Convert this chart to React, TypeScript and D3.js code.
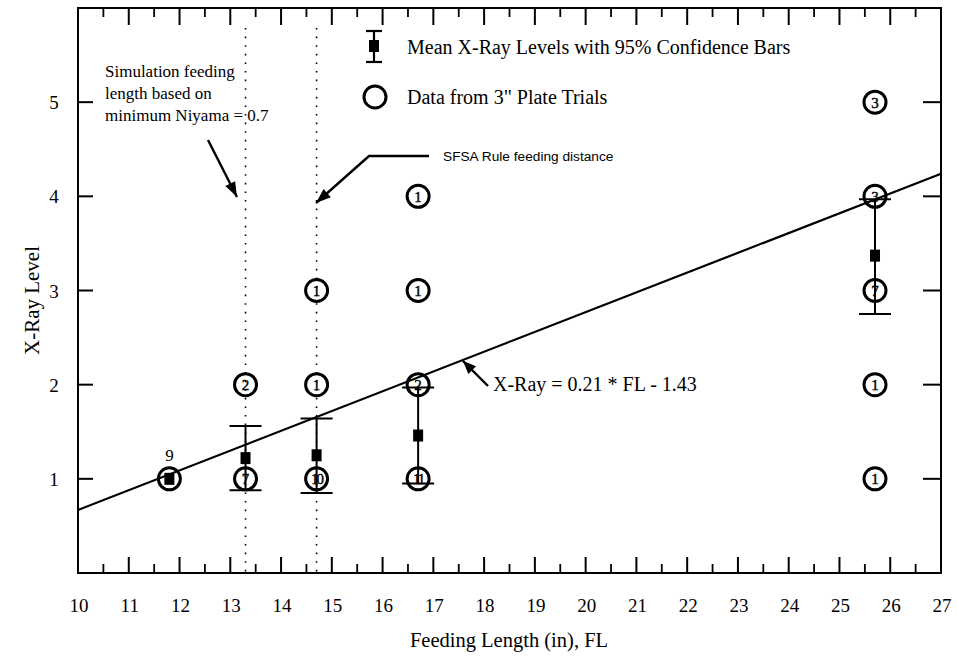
import React from "react";
import * as d3 from "d3";

// Individual plate trials: feeding length, x-ray level, number of plates
const trialFL = [11.8, 13.3, 13.3, 14.7, 14.7, 14.7, 16.7, 16.7, 16.7, 16.7, 25.7, 25.7, 25.7, 25.7, 25.7];
const trialLevel = [1, 2, 1, 3, 2, 1, 4, 3, 2, 1, 5, 4, 3, 2, 1];
const trialCount = ["9", "2", "7", "1", "1", "10", "1", "1", "2", "11", "3", "3", "7", "1", "1"];

// Mean x-ray level per feeding length with 95% confidence bounds
const meanFL = [11.8, 13.3, 14.7, 16.7, 25.7];
const meanLevel = [1.0, 1.22, 1.25, 1.46, 3.37];
const ciLow = [1.0, 0.88, 0.85, 0.95, 2.75];
const ciHigh = [1.0, 1.56, 1.64, 1.97, 3.97];

// Fitted trend: X-Ray = 0.21 * FL - 1.43
const fitSlope = 0.21;
const fitIntercept = -1.43;

// Reference feeding lengths
const simulationFL = 13.3;
const sfsaFL = 14.7;

const xTicks = d3.range(10, 28, 1);
const xMinorTicks = d3.range(10.5, 27, 1);
const yTicks = [1, 2, 3, 4, 5];

const W = 957;
const H = 657;
const margin = { left: 78, right: 16, top: 8, bottom: 84 };

const serif = "'Liberation Serif', 'Times New Roman', serif";
const sans = "'Liberation Sans', Arial, sans-serif";

function arrowHead(x1: number, y1: number, x2: number, y2: number, len = 15, half = 5.5) {
  const a = Math.atan2(y2 - y1, x2 - x1);
  const bx = x2 - len * Math.cos(a);
  const by = y2 - len * Math.sin(a);
  const px = -Math.sin(a) * half;
  const py = Math.cos(a) * half;
  return `M${x2},${y2} L${bx + px},${by + py} L${bx - px},${by - py} Z`;
}

export default function App() {
  const x = d3.scaleLinear().domain([10, 27]).range([margin.left, W - margin.right]);
  const y = d3.scaleLinear().domain([0, 6]).range([H - margin.bottom, margin.top]);
  const [x0, x1] = x.range();
  const [yb, yt] = y.range();

  const fitLine = d3
    .line<number>()
    .x((d) => x(d))
    .y((d) => y(fitSlope * d + fitIntercept));

  const r = 11;
  const capHalf = 16;
  const sq = 10;

  // arrows for annotations
  const simArrow = { x1: 208, y1: 140, x2: 237, y2: 197 };
  const sfsaArrow = { x1: 369, y1: 156, x2: 316, y2: 203 };
  const fitArrow = { x1: 488, y1: 386, x2: 463, y2: 361 };

  return (
    <svg
      width={W}
      height={H}
      style={{ position: "absolute", left: 0, top: 0, background: "#fff" }}
    >
      {/* frame */}
      <rect x={x0} y={yt} width={x1 - x0} height={yb - yt} fill="none" stroke="#000" strokeWidth={2} />

      {/* x ticks bottom and top */}
      {xTicks.map((t) => (
        <g key={"xt" + t}>
          <line x1={x(t)} x2={x(t)} y1={yb} y2={yb - 16} stroke="#000" strokeWidth={2} />
          <line x1={x(t)} x2={x(t)} y1={yt} y2={yt + 17} stroke="#000" strokeWidth={2} />
          <text x={x(t) + 1} y={yb + 39} textAnchor="middle" fontFamily={serif} fontSize={19}>
            {t}
          </text>
        </g>
      ))}
      {xMinorTicks.map((t) => (
        <g key={"xm" + t}>
          <line x1={x(t)} x2={x(t)} y1={yb} y2={yb - 9} stroke="#000" strokeWidth={1.8} />
          <line x1={x(t)} x2={x(t)} y1={yt} y2={yt + 9} stroke="#000" strokeWidth={1.8} />
        </g>
      ))}

      {/* y ticks left and right */}
      {yTicks.map((t) => (
        <g key={"yt" + t}>
          <line x1={x0} x2={x0 + 15} y1={y(t)} y2={y(t)} stroke="#000" strokeWidth={2} />
          <line x1={x1} x2={x1 - 18} y1={y(t)} y2={y(t)} stroke="#000" strokeWidth={2} />
          <text x={54} y={y(t) + 7} textAnchor="middle" fontFamily={serif} fontSize={19}>
            {t}
          </text>
        </g>
      ))}

      {/* axis titles */}
      <text
        transform={`translate(39, ${(yb + yt) / 2 + 10}) rotate(-90)`}
        textAnchor="middle"
        fontFamily={serif}
        fontSize={21}
      >
        X-Ray Level
      </text>
      <text x={509} y={647} textAnchor="middle" fontFamily={serif} fontSize={20.5}>
        Feeding Length (in), FL
      </text>

      {/* reference feeding lengths */}
      {[simulationFL, sfsaFL].map((f) => (
        <line
          key={"ref" + f}
          x1={x(f)}
          x2={x(f)}
          y1={yt + 20}
          y2={yb}
          stroke="#000"
          strokeWidth={1.6}
          strokeDasharray="1.6 7"
        />
      ))}

      {/* fitted line */}
      <path d={fitLine([10, 27]) || ""} fill="none" stroke="#000" strokeWidth={2.2} />

      {/* confidence bars */}
      {meanFL.map((f, i) =>
        ciHigh[i] > ciLow[i] ? (
          <g key={"ci" + i} stroke="#000" strokeWidth={2}>
            <line x1={x(f)} x2={x(f)} y1={y(ciHigh[i])} y2={y(ciLow[i])} />
            <line x1={x(f) - capHalf} x2={x(f) + capHalf} y1={y(ciHigh[i])} y2={y(ciHigh[i])} />
            <line x1={x(f) - capHalf} x2={x(f) + capHalf} y1={y(ciLow[i])} y2={y(ciLow[i])} />
          </g>
        ) : null
      )}

      {/* trial circles with plate counts; the count goes above when the mean marker sits inside */}
      {trialFL.map((f, i) => {
        const hasMeanInside = meanFL.some(
          (m, j) => m === f && meanLevel[j] === trialLevel[i] && ciHigh[j] === ciLow[j]
        );
        return (
          <g key={"tr" + i}>
            <circle cx={x(f)} cy={y(trialLevel[i])} r={r} fill="none" stroke="#000" strokeWidth={3} />
            <text
              x={x(f)}
              y={hasMeanInside ? y(trialLevel[i]) - 18 : y(trialLevel[i]) + 5.5}
              textAnchor="middle"
              fontFamily={serif}
              fontSize={hasMeanInside ? 17 : 15}
              stroke="#000"
              strokeWidth={hasMeanInside ? 0 : 0.4}
              letterSpacing={trialCount[i].length > 1 ? -2 : 0}
            >
              {trialCount[i]}
            </text>
          </g>
        );
      })}

      {/* mean squares */}
      {meanFL.map((f, i) => (
        <rect key={"m" + i} x={x(f) - sq / 2} y={y(meanLevel[i]) - sq / 2 - 1} width={sq} height={sq + 2} fill="#000" />
      ))}

      {/* legend */}
      <g stroke="#000" strokeWidth={2.2}>
        <line x1={374} x2={374} y1={31} y2={62} />
        <line x1={366} x2={382} y1={31} y2={31} />
        <line x1={366} x2={382} y1={62} y2={62} />
      </g>
      <rect x={369} y={40} width={10} height={12} fill="#000" />
      <text x={407} y={54} fontFamily={serif} fontSize={20}>
        Mean X-Ray Levels with 95% Confidence Bars
      </text>
      <circle cx={375} cy={97} r={r} fill="none" stroke="#000" strokeWidth={3} />
      <text x={407} y={104} fontFamily={serif} fontSize={20}>
        Data from 3" Plate Trials
      </text>

      {/* simulation annotation */}
      <text fontFamily={serif} fontSize={17}>
        <tspan x={105} y={77}>Simulation feeding</tspan>
        <tspan x={105} y={99}>length based on</tspan>
        <tspan x={105} y={121}>minimum Niyama = 0.7</tspan>
      </text>
      <line x1={simArrow.x1} y1={simArrow.y1} x2={simArrow.x2} y2={simArrow.y2} stroke="#000" strokeWidth={2.4} />
      <path d={arrowHead(simArrow.x1, simArrow.y1, simArrow.x2, simArrow.y2)} fill="#000" />

      {/* SFSA annotation */}
      <polyline
        points={`429,156 ${sfsaArrow.x1},${sfsaArrow.y1} ${sfsaArrow.x2},${sfsaArrow.y2}`}
        fill="none"
        stroke="#000"
        strokeWidth={2.4}
      />
      <path d={arrowHead(sfsaArrow.x1, sfsaArrow.y1, sfsaArrow.x2, sfsaArrow.y2)} fill="#000" />
      <text x={443} y={161} fontFamily={sans} fontSize={13.7}>
        SFSA Rule feeding distance
      </text>

      {/* fit equation annotation */}
      <line x1={fitArrow.x1} y1={fitArrow.y1} x2={fitArrow.x2} y2={fitArrow.y2} stroke="#000" strokeWidth={2.4} />
      <path d={arrowHead(fitArrow.x1, fitArrow.y1, fitArrow.x2, fitArrow.y2, 13, 5.5)} fill="#000" />
      <text x={493} y={391} fontFamily={serif} fontSize={20}>
        X-Ray = 0.21 * FL - 1.43
      </text>
    </svg>
  );
}
